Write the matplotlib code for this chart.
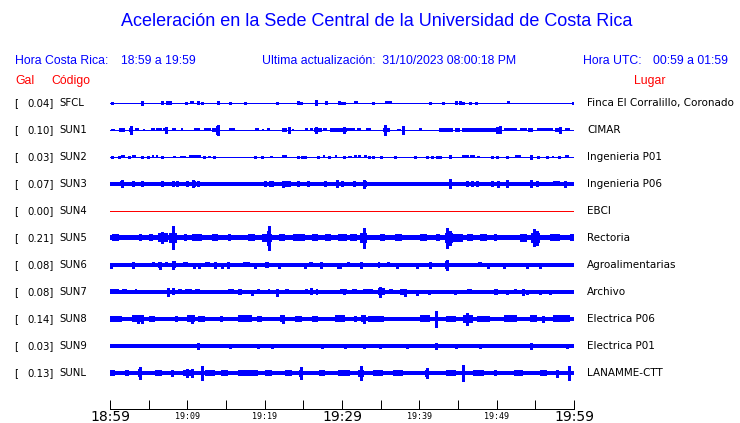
import matplotlib
matplotlib.use("Agg")
import matplotlib.pyplot as plt
from matplotlib.transforms import blended_transform_factory

# ---------------- data ----------------
codes = ["SFCL", "SUN1", "SUN2", "SUN3", "SUN4", "SUN5", "SUN6", "SUN7", "SUN8", "SUN9", "SUNL"]
gal = [0.04, 0.10, 0.03, 0.07, 0.00, 0.21, 0.08, 0.08, 0.14, 0.03, 0.13]
places = ["Finca El Corralillo, Coronado", "CIMAR", "Ingenieria P01", "Ingenieria P06", "EBCI",
          "Rectoria", "Agroalimentarias", "Archivo", "Electrica P06", "Electrica P01", "LANAMME-CTT"]
# base half-amplitude of each trace (pixels)
base_amp = [0.5, 0.5, 0.5, 1.7, 0.0, 2.5, 1.8, 1.8, 2.3, 1.7, 2.3]

# bursts: (start minute, end minute, half-amplitude px)
bursts_SFCL = [(10.4, 10.9, 1.5), (31.6, 32.1, 1.5), (35.6, 36.5, 1.5), (51.3, 51.7, 1.5)]
bursts_SUN1 = [(0.1, 0.6, 1.0), (1.1, 2.0, 2.0), (2.4, 2.9, 2.0), (3.2, 3.7, 1.5), (4.3, 4.5, 1.0),
               (5.3, 5.8, 1.5), (6.0, 6.7, 1.5), (6.9, 7.4, 1.5), (8.0, 8.5, 1.5), (9.2, 9.5, 1.5),
               (10.8, 11.6, 1.5), (12.2, 13.1, 1.5), (13.2, 14.2, 2.0), (15.4, 16.2, 1.5),
               (18.7, 19.3, 1.5), (19.6, 19.9, 1.0), (20.3, 20.7, 1.5), (22.2, 22.9, 2.0),
               (23.5, 23.8, 1.0), (25.2, 25.6, 1.5), (25.9, 26.2, 1.5), (26.4, 27.4, 2.0),
               (27.6, 28.1, 1.5), (28.5, 30.6, 2.0), (30.7, 31.7, 1.5), (31.9, 32.4, 1.5),
               (33.1, 33.7, 1.5), (35.3, 36.2, 2.0), (37.1, 37.6, 1.0), (39.9, 40.3, 1.5),
               (42.5, 44.4, 2.0), (44.6, 45.3, 2.0), (45.5, 50.0, 2.0), (50.9, 52.6, 1.5),
               (53.0, 53.9, 1.5), (54.1, 54.7, 2.0), (55.2, 57.3, 1.5), (57.5, 58.4, 2.0),
               (58.8, 59.5, 1.5)]
bursts_SUN2 = [(1.4, 1.95, 1.5), (2.9, 3.3, 1.5), (5.4, 5.65, 1.5), (6.0, 6.25, 1.5), (8.2, 8.5, 1.0),
               (9.0, 9.8, 1.0), (10.2, 11.75, 1.5), (12.7, 13.05, 1.0), (20.7, 21.1, 1.0),
               (22.3, 22.9, 1.5), (27.6, 27.8, 1.5), (29.1, 29.4, 1.5), (30.8, 31.3, 1.0),
               (31.5, 31.9, 1.5), (32.1, 32.5, 1.5), (32.8, 33.2, 1.5), (45.5, 46.4, 1.5),
               (46.6, 47.2, 1.5), (47.4, 47.8, 1.0), (52.4, 53.2, 1.5), (54.3, 54.7, 1.5),
               (57.2, 57.4, 1.0), (58.8, 59.3, 1.5)]
bursts_SUN3 = [(1.3, 1.75, 2.5), (10.6, 11.1, 3.0), (32.8, 33.2, 3.0), (57.3, 58.2, 2.5), (59.4, 60.0, 2.3)]
bursts_SUN4 = []
bursts_SUN5 = [(6.25, 7.45, 4.5), (7.6, 8.6, 5.0), (19.6, 20.9, 4.0), (0.2, 1.1, 3.5), (3.7, 4.1, 3.5),
               (5.0, 5.6, 3.5), (9.6, 9.9, 3.5), (10.6, 11.85, 3.5), (13.2, 14.0, 3.5), (15.3, 15.7, 3.5),
               (17.9, 18.75, 3.5), (21.8, 22.6, 3.5), (23.7, 25.2, 3.5), (26.1, 26.9, 3.5),
               (27.8, 28.6, 3.5), (29.5, 30.6, 3.5), (31.0, 31.9, 3.5), (32.3, 33.2, 5.0),
               (34.9, 35.6, 3.5), (36.9, 37.7, 3.5), (40.1, 41.0, 3.5), (42.2, 42.7, 3.5),
               (43.3, 44.4, 5.0), (44.4, 45.7, 4.0), (46.1, 47.0, 3.5), (47.8, 48.7, 3.5),
               (49.6, 50.0, 3.5), (53.0, 53.9, 4.0), (54.5, 55.6, 5.0), (56.9, 58.2, 3.5), (59.5, 60.0, 3.5)]
bursts_SUN6 = [(2.8, 3.2, 2.5), (4.1, 4.75, 2.0), (5.4, 5.8, 2.5), (6.25, 6.7, 3.0), (7.1, 7.5, 2.5),
               (8.0, 8.5, 3.5), (9.5, 10.05, 2.5), (12.3, 12.9, 2.5), (16.6, 16.8, 2.3), (17.2, 18.1, 2.5),
               (20.0, 20.5, 3.0), (25.7, 26.2, 2.5), (30.6, 31.0, 2.5), (33.6, 34.05, 2.3),
               (34.7, 34.9, 3.0), (35.8, 36.2, 2.5), (43.3, 43.8, 4.0), (47.6, 48.1, 2.5), (58.2, 59.9, 2.2)]
bursts_SUN7 = [(0.0, 1.1, 2.5), (1.5, 2.15, 2.5), (3.2, 3.45, 2.5), (7.97, 8.4, 3.5), (8.8, 9.25, 2.5),
               (9.7, 10.55, 2.5), (11.0, 11.6, 2.5), (15.3, 16.0, 2.5), (16.6, 17.1, 3.0),
               (19.0, 19.4, 2.5), (20.4, 20.7, 2.5), (22.6, 23.1, 2.5), (25.2, 25.6, 2.5),
               (25.9, 26.3, 3.5), (26.7, 26.9, 3.0), (27.8, 28.2, 2.3), (29.1, 29.5, 2.3),
               (29.74, 30.6, 2.5), (31.25, 31.9, 2.5), (32.76, 34.05, 2.5), (34.7, 35.6, 3.5),
               (36.1, 36.6, 2.5), (37.5, 38.4, 3.0), (42.9, 43.3, 2.3), (46.1, 46.8, 2.5),
               (49.6, 50.2, 3.0), (52.2, 52.6, 2.5)]
bursts_SUN8 = [(0.0, 1.5, 3.0), (2.8, 4.1, 3.5), (5.0, 5.8, 3.0), (8.4, 8.8, 3.0), (9.9, 11.0, 3.5),
               (11.4, 12.3, 3.0), (14.2, 14.65, 3.0), (16.6, 18.3, 3.5), (19.0, 19.6, 3.0),
               (22.0, 22.6, 3.5), (23.9, 24.8, 3.0), (26.1, 26.9, 3.0), (29.1, 30.4, 3.5),
               (31.5, 31.9, 3.0), (32.5, 33.0, 3.5), (33.4, 35.4, 3.0), (40.1, 41.4, 3.5),
               (43.5, 44.8, 3.0), (45.7, 47.0, 4.0), (47.4, 49.1, 3.0), (50.9, 52.6, 3.5),
               (54.3, 55.2, 3.5), (57.3, 59.5, 3.5)]
bursts_SUN9 = []
bursts_SUNL = [(0.0, 0.65, 2.8), (1.9, 2.4, 2.8), (3.66, 4.1, 4.0), (5.8, 6.7, 2.8), (9.5, 10.8, 3.2),
               (12.3, 13.6, 3.0), (14.4, 15.3, 2.8), (16.6, 19.2, 2.8), (20.0, 20.9, 2.8),
               (22.6, 23.5, 2.8), (24.4, 25.0, 3.5), (27.0, 27.8, 2.8), (29.5, 31.0, 2.8),
               (32.1, 32.8, 3.5), (34.05, 35.35, 2.8), (36.6, 37.9, 2.8), (40.7, 41.2, 3.5),
               (43.5, 44.8, 3.0), (47.0, 48.3, 3.0), (49.6, 50.0, 2.8), (52.2, 53.45, 3.0),
               (55.6, 56.5, 3.0), (59.2, 59.5, 4.5)]

# spikes: (minute, half-amplitude px)
spikes_SFCL = [(0.3, 1.2), (4.18, 2.0), (6.68, 1.5), (7.32, 1.5), (7.54, 1.5), (7.8, 1.5), (9.78, 1.2),
               (11.42, 1.5), (11.85, 1.2), (14.0, 1.5), (15.56, 1.2), (17.5, 1.2), (21.63, 1.2),
               (24.26, 1.5), (24.65, 1.2), (26.59, 2.5), (27.88, 1.5), (29.65, 1.5), (29.96, 1.2),
               (30.26, 1.2), (34.05, 1.2), (41.4, 1.2), (43.1, 1.2), (44.8, 1.5), (45.3, 1.5),
               (45.7, 1.2), (46.55, 1.2), (47.3, 1.2), (59.9, 1.2)]
spikes_SUN1 = [(2.7, 4.0), (7.2, 3.0), (13.8, 4.0), (14.0, 5.0), (23.1, 3.0), (26.7, 3.0), (30.3, 3.0),
               (35.6, 5.0), (37.9, 4.0), (50.0, 3.0), (50.4, 3.5), (58.2, 3.0)]
spikes_SUN2 = [(0.3, 1.0), (1.1, 1.0), (2.45, 1.0), (4.2, 1.0), (4.9, 1.0), (6.7, 1.0), (12.1, 1.0),
               (13.4, 1.0), (18.75, 1.0), (19.6, 1.0), (24.25, 1.0), (24.8, 1.0), (25.2, 1.0),
               (26.9, 1.0), (28.3, 1.0), (30.2, 1.0), (33.5, 1.0), (34.05, 1.0), (35.1, 1.0),
               (36.85, 1.0), (39.4, 1.0), (40.95, 1.0), (41.6, 1.0), (42.25, 1.0), (42.7, 1.0),
               (44.0, 1.5), (49.35, 1.0), (50.0, 1.0), (51.3, 1.0), (54.4, 2.0), (55.4, 1.0),
               (56.5, 1.0), (58.0, 1.0)]
spikes_SUN3 = [(1.5, 3.5), (3.0, 2.5), (4.2, 2.5), (6.68, 2.5), (8.1, 2.5), (8.7, 2.5), (9.9, 2.5),
               (10.7, 3.5), (11.4, 2.5), (20.0, 2.5), (20.7, 2.5), (20.9, 2.5), (22.4, 3.0), (22.8, 2.5),
               (23.2, 2.5), (24.3, 2.5), (25.6, 2.5), (27.8, 2.5), (29.4, 3.5), (29.96, 2.5),
               (31.5, 2.5), (32.85, 4.0), (43.96, 4.5), (46.1, 2.5), (46.8, 2.5), (47.4, 2.5),
               (49.35, 2.5), (50.2, 3.0), (51.3, 3.5), (54.5, 3.5), (55.2, 2.5), (58.9, 3.0)]
spikes_SUN4 = []
spikes_SUN5 = [(6.7, 5.5), (8.1, 8.0), (8.2, 11.5), (20.4, 7.0), (20.55, 12.0), (32.85, 10.0),
               (43.6, 10.0), (44.0, 7.0), (54.8, 8.5), (55.2, 7.0)]
spikes_SUN6 = [(0.13, 2.5), (3.0, 3.0), (6.45, 3.5), (8.2, 4.0), (10.8, 2.5), (11.5, 2.5), (13.6, 3.0),
               (14.44, 2.5), (15.3, 3.0), (18.75, 2.5), (21.8, 2.5), (25.2, 2.5), (27.3, 3.0),
               (29.5, 2.5), (29.74, 2.5), (32.4, 3.0), (37.1, 2.5), (39.65, 2.5), (41.4, 3.0),
               (43.6, 4.5), (48.9, 2.5), (50.9, 2.5), (53.9, 2.5), (55.6, 2.5)]
spikes_SUN7 = [(7.54, 4.0), (18.3, 2.5), (21.6, 3.5), (30.2, 2.3), (34.9, 5.0), (38.2, 3.5),
               (39.65, 2.5), (41.2, 2.3), (44.6, 2.3), (51.3, 2.3), (53.4, 3.0), (53.9, 2.3),
               (55.6, 2.3), (56.9, 2.3)]
spikes_SUN8 = [(3.66, 4.5), (4.1, 4.0), (10.65, 4.5), (22.4, 4.5), (32.8, 4.5), (42.2, 8.0),
               (46.1, 6.0), (56.0, 3.0)]
spikes_SUN9 = [(11.4, 2.7), (15.5, 2.2), (19.2, 2.0), (20.9, 2.0), (27.4, 2.0), (30.4, 2.2),
               (32.8, 2.0), (34.9, 2.2), (38.4, 2.0), (42.2, 2.7), (44.8, 2.0), (47.8, 2.0),
               (54.5, 2.7), (59.1, 2.0)]
spikes_SUNL = [(3.9, 6.0), (7.97, 3.0), (9.9, 4.0), (10.56, 4.0), (11.85, 7.0), (24.7, 6.0),
               (32.45, 7.0), (41.0, 5.0), (45.6, 8.0), (57.76, 3.5), (59.4, 7.0)]

bursts = [bursts_SFCL, bursts_SUN1, bursts_SUN2, bursts_SUN3, bursts_SUN4, bursts_SUN5,
          bursts_SUN6, bursts_SUN7, bursts_SUN8, bursts_SUN9, bursts_SUNL]
spikes = [spikes_SFCL, spikes_SUN1, spikes_SUN2, spikes_SUN3, spikes_SUN4, spikes_SUN5,
          spikes_SUN6, spikes_SUN7, spikes_SUN8, spikes_SUN9, spikes_SUNL]

tick_minutes = list(range(0, 61, 5))
tick_labels = {0: "18:59", 10: "19:09", 20: "19:19", 30: "19:29", 40: "19:39", 50: "19:49", 60: "19:59"}
big_labels = [0, 30, 60]

title = "Aceleración en la Sede Central de la Universidad de Costa Rica"
hora_cr = "Hora Costa Rica:"
hora_cr_range = "18:59 a 19:59"
ultima = "Ultima actualización:  31/10/2023 08:00:18 PM"
hora_utc = "Hora UTC:"
hora_utc_range = "00:59 a 01:59"

# ---------------- drawing ----------------
W, H = 740, 423
DPI = 100
fig = plt.figure(figsize=(W / DPI, H / DPI), dpi=DPI)
fig.patch.set_facecolor("white")

PX = 27.0  # pixels per trace slot
ax_left, ax_right = 110, 574
ax_top, ax_bot = 89.5, 409
ax = fig.add_axes([ax_left / W, (H - ax_bot) / H, (ax_right - ax_left) / W, (ax_bot - ax_top) / H])
ax.set_xlim(0, 60)
ax.set_ylim((ax_bot - 103) / PX, (ax_top - 103) / PX)
for s in ["top", "left", "right"]:
    ax.spines[s].set_visible(False)
lw1 = 72.0 / DPI  # one pixel in points
ax.spines["bottom"].set_linewidth(lw1)
ax.set_yticks([])

blue = "#0000ff"

for i in range(len(codes)):
    if codes[i] == "SUN4":
        ax.plot([0, 60], [i, i], color="#ff0000", lw=lw1, antialiased=False)
        continue
    if base_amp[i] <= 0.6:
        ax.plot([0, 60], [i, i], color=blue, lw=lw1, antialiased=False)
    else:
        b = base_amp[i] / PX
        ax.fill_between([0, 60], i - b, i + b, color=blue, lw=0, antialiased=False)
    for (s, e, a) in bursts[i]:
        ax.fill_between([s, e], i - a / PX, i + a / PX, color=blue, lw=0, antialiased=False)
    if spikes[i]:
        xs = [t for t, a in spikes[i]]
        ax.vlines(xs, [i - a / PX for t, a in spikes[i]], [i + a / PX for t, a in spikes[i]],
                  color=blue, lw=lw1 * 1.2, antialiased=False)

ax.set_xticks(tick_minutes)
ax.set_xticklabels([])
ax.tick_params(axis="x", direction="in", length=9 * 72 / DPI, width=lw1, colors="black")

tr = blended_transform_factory(ax.transData, fig.transFigure)
for m, s in tick_labels.items():
    if m in big_labels:
        ax.text(m, 1 - 416.5 / H, s, transform=tr, ha="center", va="center",
                family="DejaVu Sans", fontsize=10, color="black", clip_on=False)
    else:
        ax.text(m, 1 - 416 / H, s, transform=tr, ha="center", va="center",
                family="DejaVu Sans Mono", fontsize=6, color="black", clip_on=False)


def ftext(x, y, s, **kw):
    fig.text(x / W, 1 - y / H, s, va="center", **kw)


hdr = dict(family="Liberation Sans", color="#0000ff")
ftext(377, 22, title, ha="center", fontsize=13.0, **hdr)
ftext(15, 61, hora_cr, ha="left", fontsize=8.8, **hdr)
ftext(121, 61, hora_cr_range, ha="left", fontsize=8.8, **hdr)
ftext(262, 61, ultima, ha="left", fontsize=8.8, **hdr)
ftext(583, 61, hora_utc, ha="left", fontsize=8.8, **hdr)
ftext(653, 61, hora_utc_range, ha="left", fontsize=8.8, **hdr)
red = dict(family="Liberation Sans", color="#ff0000", fontsize=8.8)
ftext(15, 81, "Gal", ha="left", **red)
ftext(51, 81, "Código", ha="left", **red)
ftext(634, 81, "Lugar", ha="left", **red)

lab = dict(family="DejaVu Sans", color="black", fontsize=7.3)
for i in range(len(codes)):
    y = 103 + PX * i
    ftext(14, y, "[", ha="left", **lab)
    ftext(54, y, f"{gal[i]:.2f}]", ha="right", **lab)
    ftext(59, y, codes[i], ha="left", **lab)
    ftext(587, y, places[i], ha="left", fontsize=7.45,
          **{k: v for k, v in lab.items() if k != "fontsize"})

fig.savefig("out.png", dpi=DPI, facecolor="white")
